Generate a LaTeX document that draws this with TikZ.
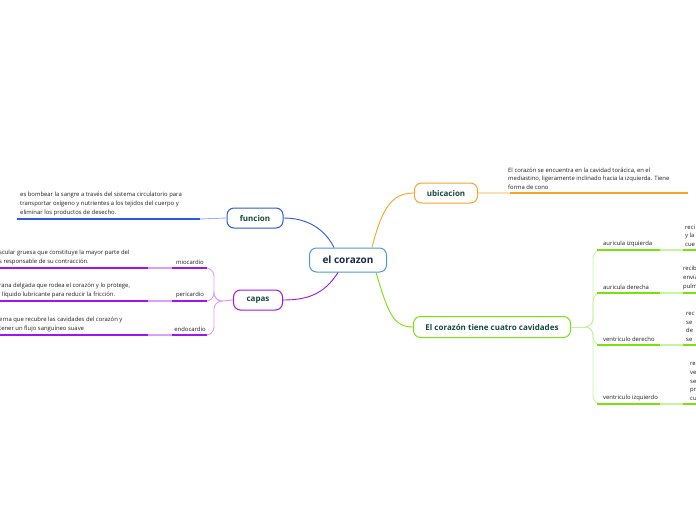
\documentclass[tikz,border=0pt]{standalone}
\usepackage{fontspec}
\setmainfont{Open Sans}
\definecolor{cmain}{HTML}{4A9AD8}
\definecolor{cblue}{HTML}{2A58E0}
\definecolor{corange}{HTML}{F7A42C}
\definecolor{cpurple}{HTML}{A114F0}
\definecolor{cgreen}{HTML}{7BE010}
\definecolor{tgreen}{HTML}{174A3A}
\definecolor{tnavy}{HTML}{1B2A48}
\tikzset{
  topic/.style={draw,rounded corners=7pt,line width=1pt,fill=white,text=tgreen,
    font=\bfseries\fontsize{8}{9}\selectfont,minimum height=20pt,inner sep=0pt},
  note/.style={align=left,anchor=south west,inner sep=0pt,text=black!88,
    font=\fontsize{5.9}{8.8}\selectfont},
  leaf/.style={anchor=south,inner sep=0pt,text=black!88,font=\fontsize{5.9}{7}\selectfont},
  bar/.style={line width=1.6pt},
  thin/.style={line width=0.9pt}
}
\begin{document}
\begin{tikzpicture}[x=1pt,y=-1pt]
\useasboundingbox(0,0)rectangle(696,520);
\clip(0,0)rectangle(696,520);
% centre and main topics
\node[topic,draw=cmain,text=tnavy,font=\bfseries\fontsize{10}{12}\selectfont,
  minimum width=77pt,minimum height=24pt](main)at(348,260){el corazon};
\node[topic,draw=cblue,minimum width=56pt](funcion)at(255,218){funcion};
\node[topic,draw=cpurple,minimum width=49pt](capas)at(258,300){capas};
\node[topic,draw=corange,minimum width=63pt](ubicacion)at(446,193){ubicacion};
\node[topic,draw=cgreen,minimum width=157pt,minimum height=21pt](cavidades)at(492,327){El corazón tiene cuatro cavidades};
% branches from the centre
\draw[cblue,thin]([xshift=-14pt]main.north)..controls +(-10,-20) and +(22,0)..(funcion.east);
\draw[corange,thin]([xshift=24pt]main.north)..controls +(10,-40) and +(-22,0)..(ubicacion.west);
\draw[cpurple,thin]([xshift=-10pt]main.south)..controls +(-14,22) and +(24,0)..(capas.east);
\draw[cgreen,thin]([xshift=28pt]main.south)..controls +(12,40) and +(-20,0)..(cavidades.west);
% funcion
\coordinate(f1)at(200,219);
\coordinate(f2)at(17,219);
\draw[cblue!45,thin](funcion.west)--(f1);
\draw[cblue,bar](f1)--(f2);
\node[note](fnote)at(20,216){es bombear la sangre a través del sistema circulatorio para\\
transportar oxígeno y nutrientes a los tejidos del cuerpo y\\eliminar los productos de desecho.};
% ubicacion
\coordinate(u1)at(510,193);
\coordinate(u2)at(688,193);
\draw[corange!35,bar](ubicacion.east)--(u1);
\draw[corange,bar](u1)--(u2);
\node[note](unote)at(508,190){El corazón se encuentra en la cavidad torácica, en el\\
mediastino, ligeramente inclinado hacia la izquierda. Tiene\\forma de cono};
% capas
\coordinate(cfork)at(222,301);
\draw[cpurple!45,thin](capas.west)--(cfork);
\foreach \y/\name/\lbl in {268/mio/miocardio,301/peri/pericardio,335/endo/endocardio}{
  \coordinate(\name a)at(207,\y);
  \coordinate(\name b)at(172,\y);
  \coordinate(\name c)at(148,\y);
  \coordinate(\name d)at(0,\y);
  \draw[cpurple!40,thin,rounded corners=8pt](cfork)--(214,301)--(214,\y)--(\name a);
  \draw[cpurple,bar](\name a)--(\name b);
  \draw[cpurple!40,bar](\name b)--(\name c);
  \draw[cpurple,bar](\name c)--(\name d);
  \node[leaf](\name)at(190,\y-3){\lbl};
}
\node[note](mionote)at(-1,265){scular gruesa que constituye la mayor parte del\\s responsable de su contracción.};
\node[note](perinote)at(-1,298){rana delgada que rodea el corazón y lo protege,\\l líquido lubricante para reducir la fricción.};
\node[note](endonote)at(-1,332){erna que recubre las cavidades del corazón y\\tener un flujo sanguíneo suave};
% cavidades
\coordinate(gfork)at(588,327);
\draw[cgreen!45,thin](cavidades.east)--(gfork);
\foreach \y/\name/\lbl in {250/ai/auricula izquierda,293/ad/auricula derecha,345/vd/ventriculo derecho,404/vi/ventriculo izquierdo}{
  \coordinate(\name a)at(597,\y);
  \coordinate(\name b)at(660,\y);
  \coordinate(\name c)at(683,\y);
  \coordinate(\name d)at(700,\y);
  \draw[cgreen!40,thin,rounded corners=8pt](gfork)--(593,327)--(593,\y)--(\name a);
  \draw[cgreen,bar](\name a)--(\name b);
  \draw[cgreen!40,bar](\name b)--(\name c);
  \draw[cgreen,bar](\name c)--(\name d);
  \node[leaf,anchor=south west](\name)at(603,\y-3){\lbl};
}
\node[note](ainote)at(685,247){reci\\y la\\cue};
\node[note](adnote)at(683,290){recib\\envía\\pulm};
\node[note](vdnote)at(686,342){rec\\se\\de\\se};
\node[note](vinote)at(690,401){re\\ve\\se\\pr\\cu};
\end{tikzpicture}
\end{document}
